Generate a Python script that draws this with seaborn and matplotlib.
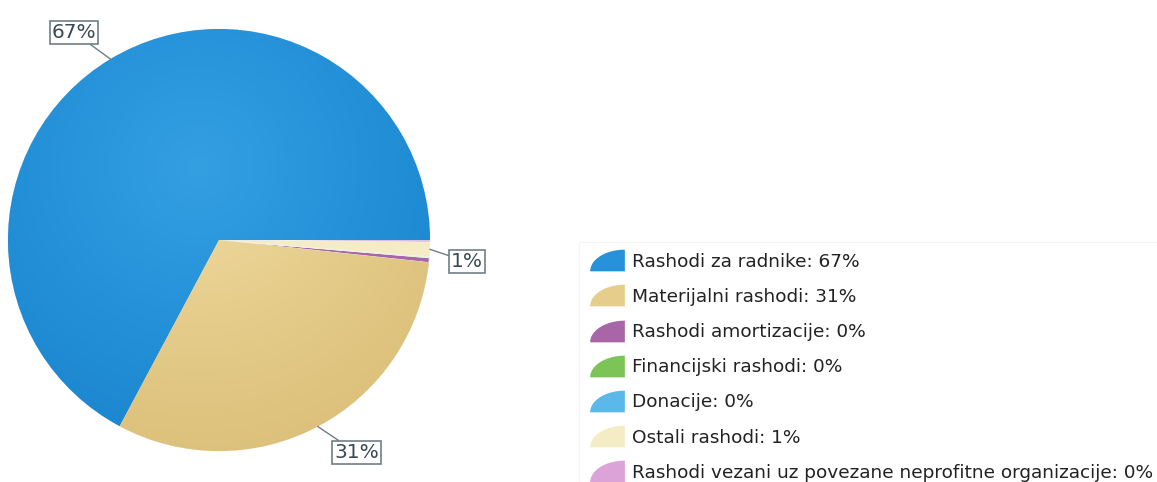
import numpy as np
import matplotlib
matplotlib.use("Agg")
import matplotlib.pyplot as plt
from matplotlib.path import Path
from matplotlib.lines import Line2D
from matplotlib.colors import LinearSegmentedColormap
import seaborn as sns

categories = ["Rashodi za radnike", "Materijalni rashodi", "Rashodi amortizacije",
              "Financijski rashodi", "Donacije", "Ostali rashodi",
              "Rashodi vezani uz povezane neprofitne organizacije"]
values = [67.2, 31.1, 0.35, 0.05, 0.05, 1.1, 0.15]
legend_pct = ["67%", "31%", "0%", "0%", "0%", "1%", "0%"]
slice_labels = ["67%", "31%", "", "", "", "1%", ""]
colors = ["#2592da", "#e6cd8c", "#a866a8", "#7cc457", "#5bb8ea", "#f3ecc4", "#dba3d8"]
light = ["#34a0e2", "#efdca4"]
dark = ["#1b86cf", "#dcc07a"]

sns.set_theme(style="white")
plt.rcParams['font.family'] = ['DejaVu Sans']

W, H = 1157, 482
fig = plt.figure(figsize=(W / 100, H / 100), dpi=100)
cx, cy, r = 219, 240, 211
ax = fig.add_axes([(cx - r) / W, (H - cy - r) / H, 2 * r / W, 2 * r / H])

palette = sns.color_palette(colors)
wedges, _ = ax.pie(values, colors=palette, startangle=0, counterclock=True,
                   radius=1.0, wedgeprops=dict(linewidth=0.5, edgecolor="#f4f1e4"))
ax.set_xlim(-1, 1)
ax.set_ylim(-1, 1)
ax.set_aspect("equal")
ax.axis("off")

# soft shading on the two large slices
gx, gy = np.meshgrid(np.linspace(-1, 1, 400), np.linspace(-1, 1, 400))
dist = np.sqrt((gx + 0.1) ** 2 + (gy - 0.35) ** 2)
for i in range(2):
    cmap = LinearSegmentedColormap.from_list(f"g{i}", [light[i], colors[i], dark[i]])
    im = ax.imshow(dist, cmap=cmap, extent=(-1, 1, -1, 1), origin="lower",
                   vmin=0, vmax=1.4, zorder=wedges[i].get_zorder() + 0.1,
                   interpolation="bilinear")
    im.set_clip_path(wedges[i])
ax.set_xlim(-1, 1)
ax.set_ylim(-1, 1)

edge = "#6f7f86"
offsets = {0: 4, 1: 5, 5: -2.5}
radii = {0: 1.2, 1: 1.2, 5: 1.18}
for i, (w, lab) in enumerate(zip(wedges, slice_labels)):
    if not lab:
        continue
    mid = np.deg2rad((w.theta1 + w.theta2) / 2)
    tmid = mid + np.deg2rad(offsets.get(i, 0))
    xy = (np.cos(mid), np.sin(mid))
    xt = (radii[i] * np.cos(tmid), radii[i] * np.sin(tmid))
    ax.annotate(lab, xy=xy, xytext=xt, ha="center", va="center",
                fontsize=14.5, color="#3a4a52",
                bbox=dict(boxstyle="square,pad=0.1", fc="white", ec=edge, lw=1.2),
                arrowprops=dict(arrowstyle="-", color=edge, lw=1.0,
                                shrinkA=0, shrinkB=0),
                annotation_clip=False, zorder=10)

t = np.linspace(np.pi / 2, np.pi, 20)
verts = np.column_stack([1.6 * np.cos(t), np.sin(t)])
verts = np.vstack([verts, [[0, 0], [1.6 * np.cos(t[0]), np.sin(t[0])]]])
verts = verts + np.array([0.8, -0.5])
codes = [Path.MOVETO] + [Path.LINETO] * (len(verts) - 2) + [Path.CLOSEPOLY]
icon = Path(verts, codes)
handles = [Line2D([0], [0], marker=icon, linestyle="none", markersize=25,
                  markerfacecolor=c, markeredgecolor=c, markeredgewidth=0)
           for c in colors]
labels = [f"{c}: {p}" for c, p in zip(categories, legend_pct)]
leg = fig.legend(handles, labels, loc="upper left",
                 bbox_to_anchor=(585 / W, 1 - 248 / H), frameon=True,
                 fontsize=13.3, labelspacing=0.93, handlelength=1.9,
                 handletextpad=0.38, borderpad=0.25, borderaxespad=0)
leg.get_frame().set_edgecolor("#f3f3f3")
leg.get_frame().set_linewidth(0.8)
leg.get_frame().set_boxstyle("square")
for tx in leg.get_texts():
    tx.set_color("#222222")

fig.savefig("out.png", dpi=100)
